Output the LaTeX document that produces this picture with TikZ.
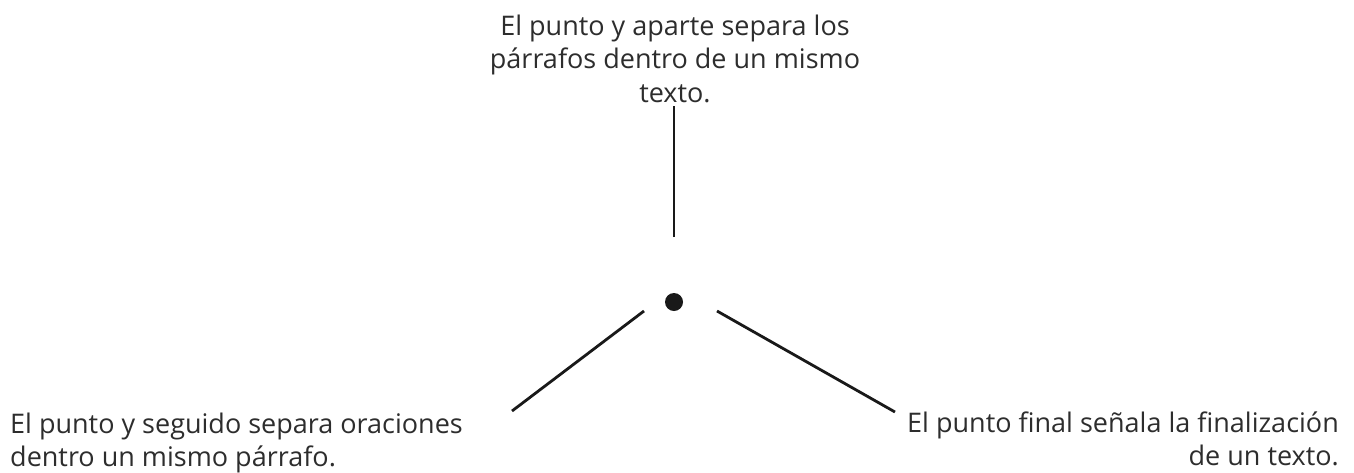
\documentclass[tikz,border=0pt]{standalone}
\usepackage{fontspec}
\setmainfont{Open Sans}
\definecolor{texto}{RGB}{45,45,45}
\definecolor{linea}{RGB}{25,25,25}

\begin{document}
\begin{tikzpicture}[x=1pt,y=-1pt, line cap=butt,
    rotulo/.style={inner sep=0pt, text=texto, font=\fontsize{27}{33.5}\selectfont},
    guia/.style={line width=2.8pt, draw=linea}]
    \useasboundingbox (0,0) rectangle (1354,472);
    % el punto
    \node (punto) [circle, fill=linea, minimum size=18pt, inner sep=0pt] at (674,302) {};
    % los tres textos
    \node (aparte) [rotulo, align=center, anchor=north] at (675,14.5) {El punto y aparte separa los\\ párrafos dentro de un mismo\\ texto.};
    \node (seguido) [rotulo, align=left, anchor=north west] at (10,412.5) {El punto y seguido separa oraciones\\ dentro un mismo párrafo.};
    \node (final) [rotulo, align=right, anchor=north east] at (1339,411.5) {El punto final señala la finalización\\ de un texto.};
    % extremos de las guias
    \coordinate (a1) at (674,106);
    \coordinate (a2) at (674,237);
    \coordinate (s1) at (644,311);
    \coordinate (s2) at (512,411);
    \coordinate (f1) at (717,311);
    \coordinate (f2) at (895,412);
    \draw [guia] (a2) -- (a1);
    \draw [guia] (s1) -- (s2);
    \draw [guia] (f1) -- (f2);
\end{tikzpicture}
\end{document}
